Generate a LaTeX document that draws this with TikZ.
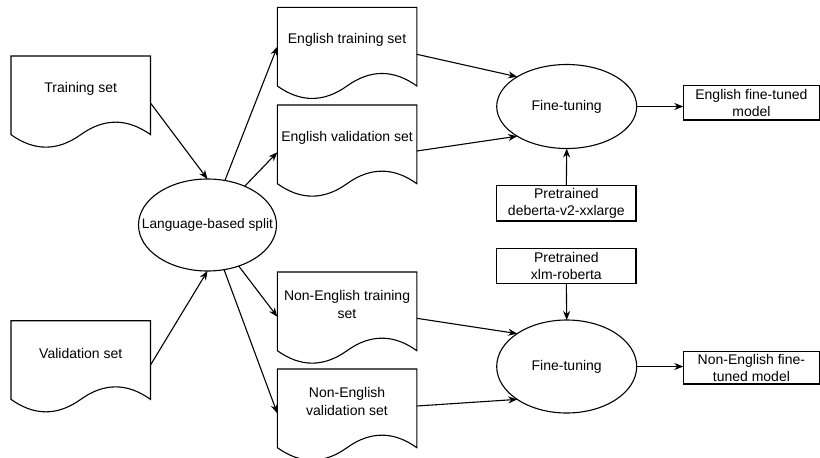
\documentclass[tikz,border=0pt]{standalone}
\usepackage{fontspec}
\setmainfont{Liberation Sans}
\usetikzlibrary{shapes.geometric,arrows.meta,calc}
\newcommand\mydocshape[1]{%
  \draw[docline,shift={(#1.north west)}] (0,0) -- (139.5,0) -- (139.5,78.63)
    .. controls (116.25,61.98) and (93,61.98) .. (69.75,78.63)
    .. controls (46.5,95.28) and (23.25,95.28) .. (0,78.63) -- cycle;}
\tikzset{
  docline/.style={line width=1.1pt, line join=miter},
  docnode/.style={minimum width=139.5pt, minimum height=64.75pt, inner sep=0pt, outer sep=0pt, align=center},
  ell/.style={ellipse, draw, line width=1.1pt, inner sep=0pt, outer sep=0pt},
  boxnode/.style={rectangle, draw, line width=1.1pt, inner sep=0pt, outer sep=0pt, align=center},
  arr/.style={line width=1.1pt, -{Stealth[length=9pt,width=7pt]}},
}
\begin{document}
\begin{tikzpicture}[x=1pt, y=-1pt, font=\fontsize{14}{17.5}\selectfont]
\fill[white] (0,0) rectangle (820,458);
\useasboundingbox (0,0) rectangle (820,458);
% documents
\node[docnode] (trs) at (80.75,88.4) {Training set};
\node[docnode] (vs) at (80.75,353.1) {Validation set};
\node[docnode] (etr) at (347.05,39.7) {English training set};
\node[docnode] (evs) at (347.05,137.4) {English validation set};
\node[docnode] (netr) at (347.05,304.4) {Non-English training\\set};
\node[docnode] (nevs) at (347.05,401.4) {Non-English\\validation set};
\mydocshape{trs}
\mydocshape{vs}
\mydocshape{etr}
\mydocshape{evs}
\mydocshape{netr}
\mydocshape{nevs}
% ellipses
\node[ell, minimum width=138pt, minimum height=92pt] (lbs) at (207.5,225) {\makebox[0pt]{\fontsize{13.7}{17}\selectfont Language-based split}};
\node[ell, minimum width=140pt, minimum height=84pt] (ft1) at (566.7,106.5) {\makebox[0pt]{Fine-tuning}};
\node[ell, minimum width=140pt, minimum height=93pt] (ft2) at (566.7,366.5) {\makebox[0pt]{Fine-tuning}};
% boxes
\node[boxnode, minimum width=136.2pt, minimum height=34.3pt] (eft) at (751.4,102.85) {English fine-tuned\\model};
\node[boxnode, minimum width=139.3pt, minimum height=35.3pt] (deb) at (566.35,203.35) {Pretrained\\deberta-v2-xxlarge};
\node[boxnode, minimum width=139.3pt, minimum height=35pt] (xlm) at (566.35,265.8) {Pretrained\\xlm-roberta};
\node[boxnode, minimum width=136.2pt, minimum height=32.3pt] (neft) at (751.4,367.85) {Non-English fine-\\tuned model};
% connector ends on documents
\coordinate (trsout) at (150.5,103);
\coordinate (vsout) at (150.5,365);
\coordinate (etrin) at (277.3,46.7);
\coordinate (evsin) at (277.3,152.3);
\coordinate (netrin) at (277.3,316.7);
\coordinate (nevsin) at (277.3,413.3);
\coordinate (etrout) at (416.8,54.3);
\coordinate (evsout) at (416.8,151);
\coordinate (netrout) at (416.8,318.3);
\coordinate (nevsout) at (416.8,406);
% connectors
\draw[arr] (trsout) -- (lbs.north);
\draw[arr] (vsout) -- (lbs.south);
\draw[arr] (lbs) -- (etrin);
\draw[arr] (lbs) -- (evsin);
\draw[arr] (lbs) -- (netrin);
\draw[arr] (lbs) -- (nevsin);
\draw[arr] (etrout) -- (ft1.north west);
\draw[arr] (evsout) -- (ft1.south west);
\draw[arr] (netrout) -- (ft2.north west);
\draw[arr] (nevsout) -- (ft2.south west);
\draw[arr] (ft1.east) -- (ft1.east -| eft.west);
\draw[arr] (deb.north) -- (ft1.south);
\draw[arr] (xlm.south) -- (ft2.north);
\draw[arr] (ft2.east) -- (ft2.east -| neft.west);
\end{tikzpicture}
\end{document}
